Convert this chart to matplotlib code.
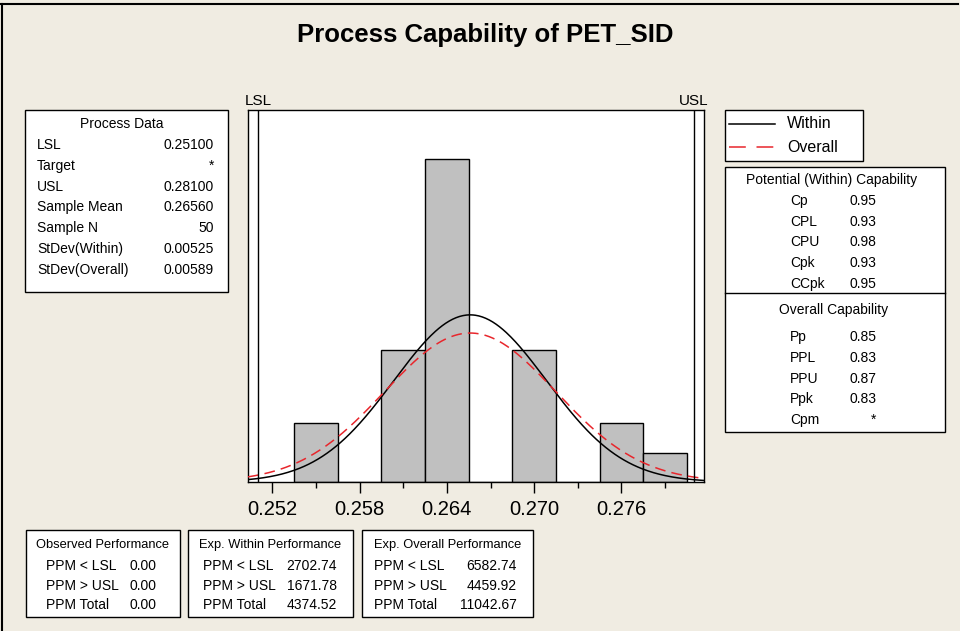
import numpy as np
import matplotlib.pyplot as plt
from matplotlib.patches import Rectangle
from matplotlib.lines import Line2D

# ---------------------------------------------------------------------------
# DATA
# ---------------------------------------------------------------------------
bin_centers = [0.255, 0.258, 0.261, 0.264, 0.267, 0.270, 0.273, 0.276, 0.279]
counts = [4, 0, 9, 22, 0, 9, 0, 4, 2]
bin_width = 0.003

lsl, usl = 0.251, 0.281
sample_mean = 0.2656
sample_n = 50
sd_within = 0.00525
sd_overall = 0.00589

major_ticks = [0.252, 0.258, 0.264, 0.270, 0.276]
minor_ticks = [0.255, 0.261, 0.267, 0.273, 0.279]

process_labels = ["LSL", "Target", "USL", "Sample Mean", "Sample N",
                  "StDev(Within)", "StDev(Overall)"]
process_values = ["0.25100", "*", "0.28100", "0.26560", "50",
                  "0.00525", "0.00589"]

within_labels = ["Cp", "CPL", "CPU", "Cpk", "CCpk"]
within_values = ["0.95", "0.93", "0.98", "0.93", "0.95"]
overall_labels = ["Pp", "PPL", "PPU", "Ppk", "Cpm"]
overall_values = ["0.85", "0.83", "0.87", "0.83", "*"]

ppm_labels = ["PPM < LSL", "PPM > USL", "PPM Total"]
observed_ppm = ["0.00", "0.00", "0.00"]
exp_within_ppm = ["2702.74", "1671.78", "4374.52"]
exp_overall_ppm = ["6582.74", "4459.92", "11042.67"]

# ---------------------------------------------------------------------------
# FIGURE
# ---------------------------------------------------------------------------
plt.rcParams['font.family'] = ['Liberation Sans', 'DejaVu Sans']
BG = '#F0ECE2'
RED = '#E8262C'
W, H = 960, 631

fig = plt.figure(figsize=(9.6, 6.31), dpi=100, facecolor=BG)


def fx(x):
    return x / W


def fy(y):
    return 1 - y / H


def box(x0, y0, x1, y1):
    fig.add_artist(Rectangle((fx(x0), fy(y1)), fx(x1) - fx(x0), fy(y0) - fy(y1),
                             transform=fig.transFigure, facecolor='white',
                             edgecolor='black', lw=1.0))


def txt(x, y, s, ha='left', size=10, **kw):
    fig.text(fx(x), fy(y), s, ha=ha, va='center', fontsize=size, **kw)


# outer frame (top and left edges)
fig.add_artist(Line2D([fx(0), fx(958)], [fy(4), fy(4)], transform=fig.transFigure,
                      color='black', lw=1.5))
fig.add_artist(Line2D([fx(2), fx(2)], [fy(4), fy(631)], transform=fig.transFigure,
                      color='black', lw=1.5))

fig.text(fx(485), fy(35), "Process Capability of PET_SID", ha='center', va='center',
         fontsize=18.5, fontweight='bold')

# ---------------------------------------------------------------------------
# HISTOGRAM + NORMAL CURVES
# ---------------------------------------------------------------------------
ax = fig.add_axes([fx(248), fy(482), fx(704) - fx(248), fy(110) - fy(482)])
ax.set_facecolor('white')

ax.bar(bin_centers, counts, width=bin_width, color='#C0C0C0',
       edgecolor='black', linewidth=1.0, zorder=2)

xmin, xmax = 0.25032, 0.28168
xs = np.linspace(xmin, xmax, 400)
scale = sample_n * bin_width
pdf_within = scale * np.exp(-0.5 * ((xs - sample_mean) / sd_within) ** 2) / (sd_within * np.sqrt(2 * np.pi))
pdf_overall = scale * np.exp(-0.5 * ((xs - sample_mean) / sd_overall) ** 2) / (sd_overall * np.sqrt(2 * np.pi))

ax.plot(xs, pdf_within, color='black', lw=1.1, zorder=3)
ax.plot(xs, pdf_overall, color=RED, lw=1.1, dashes=(7, 4), zorder=3)

ax.axvline(lsl, color='black', lw=1.0, zorder=4)
ax.axvline(usl, color='black', lw=1.0, zorder=4)
ax.text(lsl, 1.005, "LSL", transform=ax.get_xaxis_transform(), ha='center',
        va='bottom', fontsize=11)
ax.text(usl, 1.005, "USL", transform=ax.get_xaxis_transform(), ha='center',
        va='bottom', fontsize=11)

ax.set_xlim(xmin, xmax)
ax.set_ylim(0, 25.37)
ax.set_yticks([])
ax.set_xticks(major_ticks)
ax.set_xticklabels([f"{t:.3f}" for t in major_ticks], fontsize=14.5)
ax.set_xticks(minor_ticks, minor=True)
ax.tick_params(axis='x', which='major', length=8, width=1, pad=5)
ax.tick_params(axis='x', which='minor', length=4, width=1)
for sp in ax.spines.values():
    sp.set_linewidth(1.0)

# ---------------------------------------------------------------------------
# PROCESS DATA BOX
# ---------------------------------------------------------------------------
box(25, 110, 228, 292)
txt(122, 124, "Process Data", ha='center')
for i, (lab, val) in enumerate(zip(process_labels, process_values)):
    y = 145 + i * 20.8
    txt(37, y, lab)
    txt(214, y, val, ha='right')

# ---------------------------------------------------------------------------
# LEGEND BOX
# ---------------------------------------------------------------------------
box(725, 110, 863, 161)
fig.add_artist(Line2D([fx(729), fx(775)], [fy(124), fy(124)], transform=fig.transFigure,
                      color='black', lw=1.1))
fig.add_artist(Line2D([fx(729), fx(775)], [fy(147), fy(147)], transform=fig.transFigure,
                      color=RED, lw=1.1, dashes=(11, 7)))
txt(787, 124, "Within", size=11.5)
txt(787, 147, "Overall", size=11.5)

# ---------------------------------------------------------------------------
# CAPABILITY BOX
# ---------------------------------------------------------------------------
box(725, 167, 945, 432)
fig.add_artist(Line2D([fx(725), fx(945)], [fy(293), fy(293)], transform=fig.transFigure,
                      color='black', lw=1.0))
txt(832, 180, "Potential (Within) Capability", ha='center')
for i, (lab, val) in enumerate(zip(within_labels, within_values)):
    y = 201 + i * 20.7
    txt(790, y, lab)
    txt(876, y, val, ha='right')
txt(834, 310, "Overall Capability", ha='center')
for i, (lab, val) in enumerate(zip(overall_labels, overall_values)):
    y = 337 + i * 20.8
    txt(790, y, lab)
    txt(876, y, val, ha='right')

# ---------------------------------------------------------------------------
# PERFORMANCE BOXES
# ---------------------------------------------------------------------------
perf = [
    ("Observed Performance", observed_ppm, 26, 180, 46, 157),
    ("Exp. Within Performance", exp_within_ppm, 188, 353, 203, 337),
    ("Exp. Overall Performance", exp_overall_ppm, 362, 533, 374, 517),
]
for title, vals, x0, x1, xl, xr in perf:
    box(x0, 530, x1, 617)
    txt((x0 + x1) / 2, 545, title, ha='center', size=9.3)
    for i, (lab, val) in enumerate(zip(ppm_labels, vals)):
        y = 566 + i * 19.5
        txt(xl, y, lab)
        txt(xr, y, val, ha='right')

plt.savefig("out.png", dpi=100, facecolor=BG)
